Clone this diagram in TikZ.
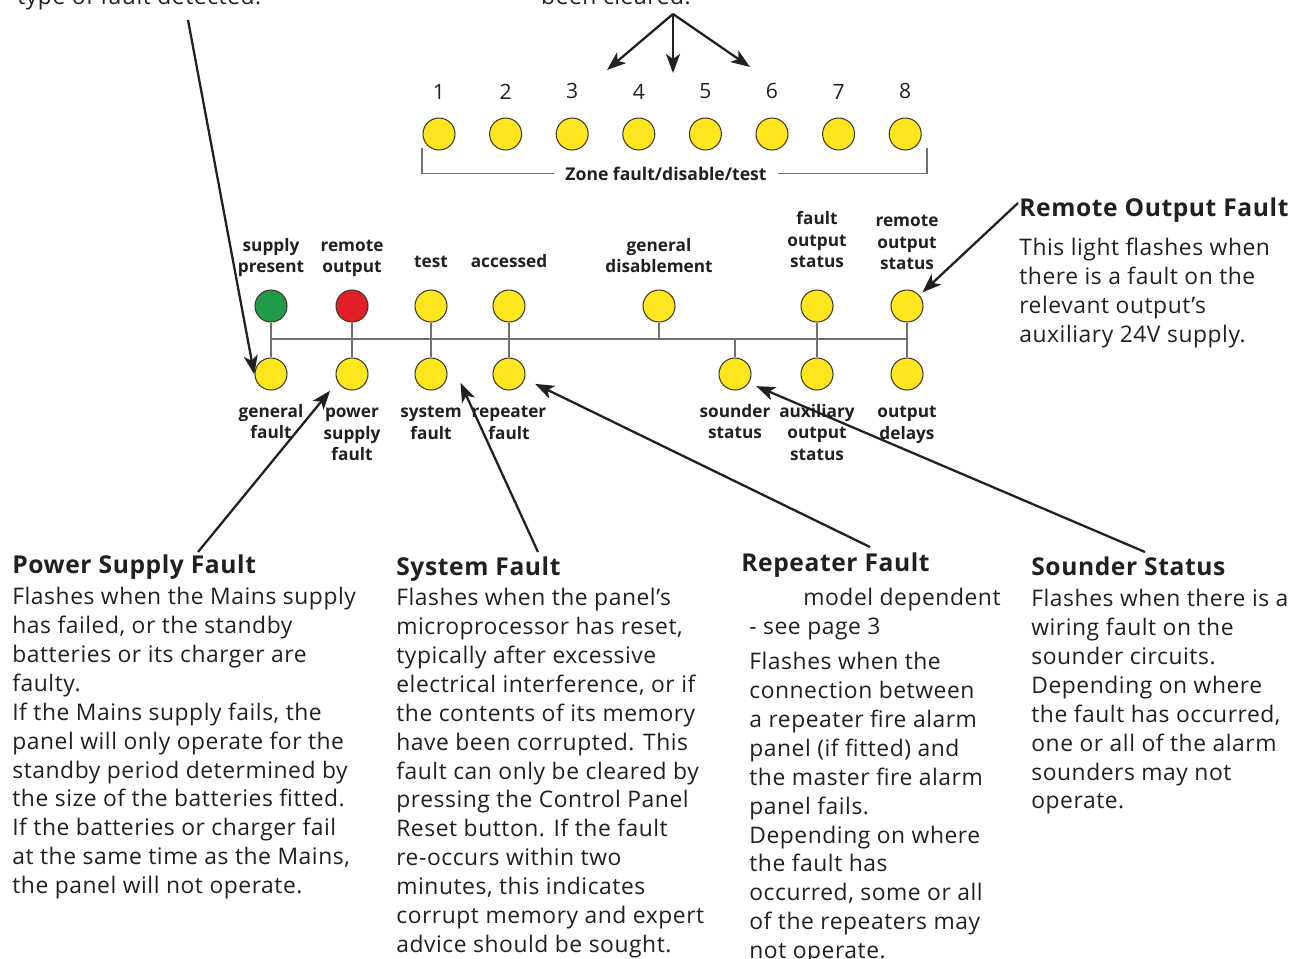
\documentclass[tikz,border=0pt]{standalone}
\usepackage{fontspec}
\setmainfont{Open Sans}
\newfontfamily\panelfont[LetterSpace=2.4]{Open Sans}
\usetikzlibrary{arrows.meta}

\definecolor{ledyellow}{HTML}{FFE61E}
\definecolor{ledgreen}{HTML}{1E9A48}
\definecolor{ledred}{HTML}{E3202A}
\definecolor{ledrim}{HTML}{3F3A24}
\definecolor{ink}{HTML}{231F20}
\definecolor{wiregray}{HTML}{707070}

\begin{document}
\begin{tikzpicture}[x=0.02cm, y=-0.02cm,
    led/.style={circle, draw=ledrim, line width=0.6pt, fill=ledyellow, minimum size=0.64cm, inner sep=0pt},
    wire/.style={draw=wiregray, line width=1.1pt},
    bracket/.style={draw=wiregray, line width=0.8pt},
    pointer/.style={-{Stealth[length=0.38cm, width=0.28cm, inset=0.1cm]}, draw=ink, line width=1.3pt},
    ledtag/.style={font=\fontsize{9.8}{12.2}\selectfont\bfseries, text=ink, align=center, inner sep=0pt},
    tagabove/.style={ledtag, anchor=south},
    tagbelow/.style={ledtag, anchor=north},
    zonenum/.style={font=\fontsize{12}{14}\selectfont, text=ink, inner sep=0pt},
    head/.style={font=\panelfont\fontsize{14}{16}\selectfont\bfseries, text=ink, anchor=base west, inner sep=0pt},
    body/.style={font=\panelfont\fontsize{13}{16.44}\selectfont, text=ink, align=left, anchor=north west, inner sep=0pt},
  ]
  \useasboundingbox (0,0) rectangle (1292,958);

  % notes cut off at the top edge
  \node[body, anchor=base west] (gfNote) at (17,4) {type of fault detected.};
  \node[body, anchor=base] (zoneNote) at (616,4) {been cleared.};

  % zone lamps
  \foreach \n in {1,...,8}
    \node[led, label={[zonenum, label distance=0.36cm]above:\n}] (z\n) at ({439+66.6*(\n-1)},134) {};
  \node[ledtag, font=\fontsize{10}{12}\selectfont\bfseries, anchor=base, inner xsep=0.22cm] (zoneTag) at (666,180) {Zone fault/disable/test};
  \coordinate (bracketL) at (422,148);
  \coordinate (bracketR) at (927,148);
  \draw[bracket] (zoneTag.west) -| (bracketL);
  \draw[bracket] (zoneTag.east) -| (bracketR);

  \coordinate (clearTop) at (673,14);
  \coordinate (clearA) at (607,70);
  \coordinate (clearB) at (673,73);
  \coordinate (clearC) at (750,67);
  \draw[pointer] (clearTop) -- (clearA);
  \draw[pointer] (clearTop) -- (clearB);
  \draw[pointer] (clearTop) -- (clearC);

  % status lamps, upper row
  \node[led, fill=ledgreen] (sp) at (271,306) {};
  \node[led, fill=ledred] (ro) at (352,306) {};
  \node[led] (tst) at (431,306) {};
  \node[led] (acc) at (509,306) {};
  \node[led] (gd) at (659,306) {};
  \node[led] (fos) at (817,306) {};
  \node[led] (ros) at (907,306) {};
  % status lamps, lower row
  \node[led] (gf) at (271,374) {};
  \node[led] (psf) at (352,374) {};
  \node[led] (sf) at (431,374) {};
  \node[led] (rf) at (509,374) {};
  \node[led] (ss) at (735,374) {};
  \node[led] (aos) at (817,374) {};
  \node[led] (od) at (907,374) {};

  % wiring
  \coordinate (busL) at (271,339);
  \coordinate (busR) at (907,339);
  \draw[wire] (busL) -- (busR);
  \draw[wire] (sp) -- (gf);
  \draw[wire] (ro) -- (psf);
  \draw[wire] (tst) -- (sf);
  \draw[wire] (acc) -- (rf);
  \draw[wire] (gd) -- (gd |- busL);
  \draw[wire] (ss) -- (ss |- busL);
  \draw[wire] (fos) -- (aos);
  \draw[wire] (ros) -- (od);

  % lamp labels
  \node[tagabove] (spTag) at (271,277) {supply\\present};
  \node[tagabove] (roTag) at (352,277) {remote\\output};
  \node[tagabove] (tstTag) at (431,268) {test};
  \node[tagabove] (accTag) at (509,268) {accessed};
  \node[tagabove] (gdTag) at (659,273) {general\\disablement};
  \node[tagabove] (fosTag) at (817,268) {fault\\output\\status};
  \node[tagabove] (rosTag) at (907,270) {remote\\output\\status};
  \node[tagbelow] (gfTag) at (271,404) {general\\fault};
  \node[tagbelow] (psfTag) at (352,408) {power\\supply\\fault};
  \node[tagbelow] (sfTag) at (431,406) {system\\fault};
  \node[tagbelow] (rfTag) at (509,406) {repeater\\fault};
  \node[tagbelow] (ssTag) at (735,404) {sounder\\status};
  \node[tagbelow] (aosTag) at (817,404) {auxiliary\\output\\status};
  \node[tagbelow] (odTag) at (907,406) {output\\delays};

  % remote output fault
  \node[head] (rofHead) at (1019,216) {Remote Output Fault};
  \node[body] (rofBody) at (1019,238) {This light flashes when\\there is a fault on the\\relevant output’s\\auxiliary 24V supply.};

  % power supply fault
  \node[head] (psfHead) at (12,573) {Power Supply Fault};
  \node[body] (psfBody) at (12,587) {Flashes when the Mains supply\\has failed, or the standby\\batteries or its charger are\\faulty.\\If the Mains supply fails, the\\panel will only operate for the\\standby period determined by\\the size of the batteries fitted.\\If the batteries or charger fail\\at the same time as the Mains,\\the panel will not operate.};

  % system fault
  \node[head] (sfHead) at (396,575) {System Fault};
  \node[body] (sfBody) at (396,588) {Flashes when the panel’s\\microprocessor has reset,\\typically after excessive\\electrical interference, or if\\the contents of its memory\\have been corrupted. This\\fault can only be cleared by\\pressing the Control Panel\\Reset button. If the fault\\re-occurs within two\\minutes, this indicates\\corrupt memory and expert\\advice should be sought.};

  % repeater fault
  \node[head] (rfHead) at (741,571) {Repeater Fault};
  \node[body] (rfNote) at (749,588) {\hspace*{1.08cm}model dependent\\- see page 3};
  \node[body] (rfBody) at (749,652) {Flashes when the\\connection between\\a repeater fire alarm\\panel (if fitted) and\\the master fire alarm\\panel fails.\\Depending on where\\the fault has\\occurred, some or all\\of the repeaters may\\not operate.};

  % sounder status
  \node[head] (ssHead) at (1031,575) {Sounder Status};
  \node[body] (ssBody) at (1031,589) {Flashes when there is a\\wiring fault on the\\sounder circuits.\\Depending on where\\the fault has occurred,\\one or all of the alarm\\sounders may not\\operate.};

  % pointers
  \coordinate (gfTail) at (188,20);
  \coordinate (psfTail) at (198,552);
  \coordinate (sfTail) at (538,552);
  \coordinate (rfTail) at (870,547);
  \coordinate (ssTail) at (1145,552);
  \coordinate (rofTail) at (1018,203);
  \draw[pointer, shorten >=0.05cm] (gfTail) -- (gf.190);
  \draw[pointer, shorten >=0.23cm] (psfTail) -- (psf.208);
  \draw[pointer] (sfTail) -- ([xshift=0.26cm, yshift=-0.18cm]sf.east);
  \draw[pointer, shorten >=0.23cm] (rfTail) -- (rf.-17);
  \draw[pointer, shorten >=0.16cm] (ssTail) -- (ss.-33);
  \draw[pointer, shorten >=0.08cm] (rofTail) -- (ros.41);
\end{tikzpicture}
\end{document}
